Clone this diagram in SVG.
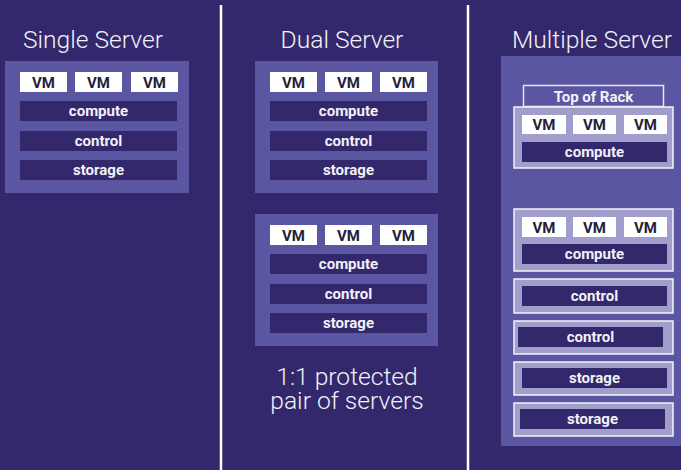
<svg xmlns="http://www.w3.org/2000/svg" width="681" height="470" viewBox="0 0 681 470">
<style>
.bg{fill:#33286b}
.panel{fill:#5b56a1}
.box{fill:#a29ecb;stroke:#f4f3fa;stroke-width:1.5}
.tor{fill:#5b56a1;stroke:#e6e4f3;stroke-width:1.5}
.vm{fill:#ffffff}
.bar{fill:#33286b}
.title{font-family:Roboto,"Liberation Sans",sans-serif;font-weight:300;font-size:24.6px;fill:#f2f1f8;text-anchor:middle}
.vmt{font-family:Roboto,"Liberation Sans",sans-serif;font-weight:700;font-size:15px;fill:#231f3a;text-anchor:middle}
.bt{font-family:Roboto,"Liberation Sans",sans-serif;font-weight:700;font-size:15px;fill:#f2f1f8;text-anchor:middle}
.div{stroke:#ffffff;stroke-width:2.5}
</style>
<rect class="bg" x="0" y="0" width="681" height="470"/>
<g id="dividers">
<line class="div" x1="221" y1="5" x2="221" y2="470"/>
<line class="div" x1="468" y1="5" x2="468" y2="470"/>
</g>
<g id="titles">
<text class="title" x="93" y="48">Single Server</text>
<text class="title" x="342" y="48">Dual Server</text>
<text class="title" x="592" y="48">Multiple Server</text>
</g>
<g id="single-server">
<rect class="panel" x="5" y="61" width="184" height="132"/>
<rect class="vm" x="20" y="72" width="47" height="20"/><text class="vmt" x="43.5" y="87.5">VM</text>
<rect class="vm" x="75" y="72" width="47" height="20"/><text class="vmt" x="98.5" y="87.5">VM</text>
<rect class="vm" x="131" y="72" width="47" height="20"/><text class="vmt" x="154.5" y="87.5">VM</text>
<rect class="bar" x="20" y="101" width="157" height="20"/><text class="bt" x="98.5" y="116">compute</text>
<rect class="bar" x="20" y="131" width="157" height="20"/><text class="bt" x="98.5" y="146">control</text>
<rect class="bar" x="20" y="160" width="157" height="20"/><text class="bt" x="98.5" y="175">storage</text>
</g>
<g id="dual-server-1">
<rect class="panel" x="255" y="61" width="183" height="132"/>
<rect class="vm" x="270" y="72" width="47" height="20"/><text class="vmt" x="293.5" y="87.5">VM</text>
<rect class="vm" x="325" y="72" width="47" height="20"/><text class="vmt" x="348.5" y="87.5">VM</text>
<rect class="vm" x="380" y="72" width="47" height="20"/><text class="vmt" x="403.5" y="87.5">VM</text>
<rect class="bar" x="270" y="101" width="157" height="20"/><text class="bt" x="348.5" y="116">compute</text>
<rect class="bar" x="270" y="131" width="157" height="20"/><text class="bt" x="348.5" y="146">control</text>
<rect class="bar" x="270" y="160" width="157" height="20"/><text class="bt" x="348.5" y="175">storage</text>
</g>
<g id="dual-server-2">
<rect class="panel" x="255" y="214" width="183" height="132"/>
<rect class="vm" x="270" y="225" width="47" height="20"/><text class="vmt" x="293.5" y="240.5">VM</text>
<rect class="vm" x="325" y="225" width="47" height="20"/><text class="vmt" x="348.5" y="240.5">VM</text>
<rect class="vm" x="380" y="225" width="47" height="20"/><text class="vmt" x="403.5" y="240.5">VM</text>
<rect class="bar" x="270" y="254" width="157" height="20"/><text class="bt" x="348.5" y="269">compute</text>
<rect class="bar" x="270" y="284" width="157" height="20"/><text class="bt" x="348.5" y="299">control</text>
<rect class="bar" x="270" y="313" width="157" height="20"/><text class="bt" x="348.5" y="328">storage</text>
</g>
<g id="dual-caption">
<text class="title" x="347" y="385">1:1 protected</text>
<text class="title" x="347" y="409">pair of servers</text>
</g>
<g id="multiple-server">
<rect class="panel" x="501" y="56" width="182" height="390"/>
<g id="top-of-rack">
<rect class="tor" x="523.5" y="85.5" width="140" height="21"/>
<text class="bt" x="593.5" y="101.5">Top of Rack</text>
</g>
<g id="compute-1">
<rect class="box" x="514" y="107" width="159" height="61"/>
<rect class="vm" x="522" y="115" width="44" height="19"/><text class="vmt" x="544" y="130">VM</text>
<rect class="vm" x="573" y="115" width="43" height="19"/><text class="vmt" x="594.5" y="130">VM</text>
<rect class="vm" x="624" y="115" width="43" height="19"/><text class="vmt" x="645.5" y="130">VM</text>
<rect class="bar" x="522" y="142" width="145" height="20"/><text class="bt" x="594.5" y="157">compute</text>
</g>
<g id="compute-2">
<rect class="box" x="514" y="209" width="159" height="62"/>
<rect class="vm" x="522" y="217" width="44" height="20"/><text class="vmt" x="544" y="232.5">VM</text>
<rect class="vm" x="573" y="217" width="43" height="20"/><text class="vmt" x="594.5" y="232.5">VM</text>
<rect class="vm" x="624" y="217" width="43" height="20"/><text class="vmt" x="645.5" y="232.5">VM</text>
<rect class="bar" x="522" y="244" width="145" height="20"/><text class="bt" x="594.5" y="259">compute</text>
</g>
<g id="control-1">
<rect class="box" x="514" y="279" width="159" height="34"/>
<rect class="bar" x="522" y="286" width="145" height="20"/><text class="bt" x="594.5" y="301">control</text>
</g>
<g id="control-2">
<rect class="box" x="514" y="321" width="159" height="33"/>
<rect class="bar" x="518" y="327" width="145" height="20"/><text class="bt" x="590.5" y="342">control</text>
</g>
<g id="storage-1">
<rect class="box" x="514" y="362" width="159" height="33"/>
<rect class="bar" x="522" y="368" width="145" height="20"/><text class="bt" x="594.5" y="383">storage</text>
</g>
<g id="storage-2">
<rect class="box" x="514" y="403" width="159" height="33"/>
<rect class="bar" x="520" y="409" width="145" height="20"/><text class="bt" x="592.5" y="424">storage</text>
</g>
</g>
</svg>
